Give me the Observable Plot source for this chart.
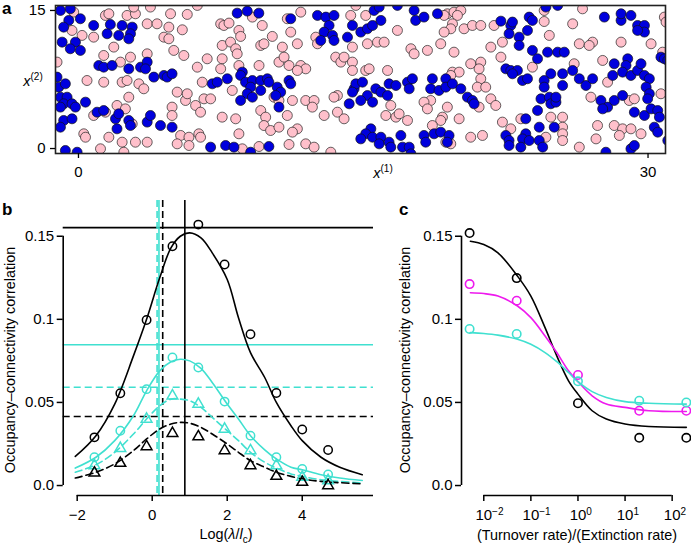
<!DOCTYPE html>
<html><head><meta charset="utf-8">
<script src="https://cdn.jsdelivr.net/npm/d3@7"></script>
<script src="https://cdn.jsdelivr.net/npm/@observablehq/plot@0.6"></script>
<style>
body{margin:0;background:#fff;font-family:"Liberation Sans",Arial,sans-serif;}
#wrap{position:relative;width:691px;height:545px;overflow:hidden;background:#fff;}
.panel{position:absolute;}
#wrap svg text{font-family:"Liberation Sans",Arial,sans-serif;}
#wrap svg g[aria-label$="tick label"]{font-size:15px;}
#wrap svg tspan.sup{font-size:10px;}
.lbl{position:absolute;font-size:14.4px;color:#000;white-space:nowrap;line-height:1;}
.lbl sup{font-size:10px;vertical-align:0;position:relative;top:-6px;}
.lbl sub{font-size:10px;vertical-align:0;position:relative;top:4px;}
.tag{position:absolute;font-weight:bold;font-size:17px;line-height:1;}
.rot{transform:translate(-50%,-50%) rotate(-90deg);}
.ctr{transform:translate(-50%,-50%);}
</style></head><body><div id="wrap"></div>
<script>
// ---------- Panel a: occupancy map ----------
const aXTicks = [0, 30];
const aYTicks = [0, 15];
const aXDomain = [-1.21, 30.92];
const aYDomain = [-0.54, 15.54];
const occupiedSites = [
[-0.95,15.0],[-0.43,15.18],[-0.51,13.92],[0.1,14.1],[-0.78,13.19],[-0.86,11.56],[-0.16,11.56],[-0.43,10.84],[0.1,10.66],[0.8,13.37],[1.68,13.48],[1.51,12.47],[2.3,13.37],[2.83,13.19],[2.74,12.47],[2.65,11.92],[2.12,12.29],[1.07,9.02],[1.33,8.84],[1.77,9.02],[2.65,8.66],[3.27,8.84],[3.62,9.39],[3.53,8.66],[3.97,7.76],[4.5,7.94],[4.67,7.76],[4.93,8.12],[-1.13,7.76],[-1.04,6.67],[-0.69,7.03],[-0.95,5.58],[-0.6,5.58],[-0.78,4.86],[-0.34,4.86],[-0.16,4.5],[0.37,5.04],[-0.95,4.5],[0.98,3.95],[1.33,4.13],[1.95,3.23],[2.12,3.77],[2.03,2.14],[2.65,3.05],[2.74,2.5],[3.62,2.87],[3.79,3.59],[4.32,2.5],[4.93,2.32],[-0.78,3.05],[-0.34,3.23],[-0.95,2.32],[-0.69,-0.21],[-0.07,-0.4],
[8.36,14.71],[8.89,14.93],[9.5,14.71],[11.18,14.1],[7.05,7.03],[7.31,7.21],[7.84,7.58],[8.63,8.3],[8.54,7.94],[8.8,7.21],[9.16,7.39],[9.6,7.39],[9.95,7.58],[10.03,7.21],[9.07,6.67],[8.89,5.95],[9.6,6.31],[8.54,5.22],[9.16,5.58],[10.47,6.67],[10.65,6.13],[10.39,5.76],[11.09,7.39],[11.18,7.03],[10.56,4.5],[6.96,0.15],[7.75,0.33],[8.19,0.15],[10.03,0.22],[9.07,-0.4],
[12.59,14.46],[13.03,14.28],[13.46,14.46],[13.2,13.37],[12.94,12.65],[13.38,12.29],[13.46,11.74],[12.76,11.74],[14.17,12.1],[14.43,13.37],[14.87,12.65],[15.22,13.01],[15.49,13.37],[15.93,13.92],[15.57,15.0],[15.84,15.37],[16.8,15.55],[14.52,6.49],[14.61,7.03],[14.96,7.21],[14.43,6.13],[15.22,5.76],[15.66,6.49],[15.93,6.13],[16.28,5.76],[16.36,7.03],[16.72,6.85],[17.33,7.21],[17.59,7.58],[17.42,6.49],[14.26,4.86],[14.87,5.22],[15.49,5.04],[15.4,2.14],[15.13,1.6],[14.87,1.05],[15.49,1.23],[15.93,1.23],[15.84,0.51],[16.36,0.69],[16.45,0.15],[16.98,1.42],[17.07,0.15],[17.42,0.15],[17.51,-0.58],
[17.68,15.0],[17.76,13.92],[18.2,14.28],[18.91,14.64],[22.25,13.84],[22.77,13.37],[22.68,12.47],[22.86,13.74],[23.21,12.1],[23.21,11.2],[23.74,14.28],[23.91,13.92],[23.65,12.83],[23.91,10.66],[18.64,7.58],[18.55,6.49],[18.99,6.31],[19.35,7.58],[19.35,6.67],[19.7,7.03],[20.14,6.49],[20.49,5.58],[20.75,5.22],[20.84,4.86],[22.51,8.66],[22.77,8.48],[23.12,8.48],[22.86,8.12],[23.39,7.39],[23.65,7.58],[18.2,1.42],[18.73,1.6],[19.08,1.78],[19.52,1.42],[19.43,0.69],[18.29,0.69],[22.51,1.42],[22.68,0.87],[22.68,0.33],[23.56,3.23],[23.56,1.6],[23.39,1.05],[23.74,0.87],[23.3,0.15],
[24.62,15.37],[25.24,15.55],[27.7,14.28],[28.58,13.92],[28.58,14.64],[29.1,14.46],[29.45,13.37],[29.81,13.37],[29.81,12.65],[29.45,12.83],[24.18,9.75],[24.71,10.47],[25.24,10.47],[25.59,10.47],[24.88,8.12],[24.53,7.39],[24.53,6.67],[25.5,8.12],[25.5,6.85],[26.03,8.48],[26.38,7.58],[26.73,6.85],[27.08,7.58],[28.22,9.21],[28.93,9.75],[28.84,9.02],[28.14,7.94],[28.66,8.3],[29.1,7.94],[29.45,8.48],[29.63,9.21],[29.81,7.94],[30.07,7.58],[29.9,6.67],[30.07,5.95],[29.98,5.4],[30.68,9.93],[30.86,9.75],[31.04,9.57],[24.36,5.4],[24.8,5.58],[24.88,4.86],[25.15,5.04],[25.15,5.58],[24.18,4.13],[25.06,2.32],[24.27,2.32],[27.52,5.22],[27.87,4.5],[28.22,5.22],[28.66,5.76],[27.61,4.31],[29.28,3.95],[29.81,3.59],[30.16,4.31],[30.51,4.13],[30.6,3.41],[30.33,2.32],[30.51,1.78],[31.04,0.87],[24.27,0.87],[24.45,0.15],[29.1,-0.03],[29.28,0.33],[27.78,-0.4]
];
const emptySites = [
[-0.25,14.82],[-0.34,12.83],[0.19,12.29],[0.8,12.1],[1.42,14.46],[1.6,14.64],[2.56,14.46],[3.0,14.64],[2.91,15.37],[3.62,13.55],[4.14,13.55],[4.76,13.19],[4.5,12.1],[4.76,11.92],[4.85,14.64],[3.79,15.37],[1.86,11.02],[1.33,10.11],[2.21,9.39],[2.74,9.93],[3.62,10.29],[-1.13,9.39],[5.02,10.66],[0.45,7.39],[1.33,7.21],[2.3,7.21],[2.56,7.39],[3.18,7.03],[3.44,6.49],[2.65,5.58],[2.03,4.68],[2.47,4.31],[0.8,3.59],[1.42,3.95],[2.83,2.68],[4.93,4.5],[4.93,3.59],[0.28,1.6],[0.37,1.23],[1.6,1.23],[2.3,0.69],[3.0,0.69],[3.62,0.69],[1.16,-0.03],[2.39,-0.4],
[5.73,14.57],[6.26,15.55],[5.47,12.9],[5.55,10.11],[6.78,9.75],[6.26,8.84],[7.57,9.75],[7.49,8.66],[7.57,11.2],[8.01,11.56],[8.28,10.84],[8.36,10.29],[8.45,9.02],[7.49,13.55],[7.66,13.37],[7.93,13.63],[8.45,12.83],[8.54,12.18],[9.16,14.28],[9.68,13.37],[10.21,12.18],[9.6,11.2],[9.77,11.38],[10.74,11.02],[11.0,14.1],[10.56,9.39],[10.83,9.93],[11.09,9.02],[11.18,12.65],[9.51,9.02],[6.52,7.21],[8.1,6.31],[5.2,6.13],[5.64,5.22],[5.73,5.95],[6.61,5.4],[6.96,5.4],[6.17,4.68],[6.43,3.95],[7.57,3.41],[8.28,3.23],[9.6,4.13],[9.86,3.41],[11.0,3.59],[10.3,5.58],[10.56,5.22],[9.77,2.5],[10.12,1.96],[10.56,2.32],[8.45,1.6],[5.38,1.42],[5.82,1.23],[6.34,1.6],[6.43,1.23],[5.2,0.51],[5.82,0.33],[8.63,-0.03],[9.51,0.22],[11.09,0.44],
[11.71,14.82],[11.53,11.38],[12.5,12.1],[12.59,11.38],[14.34,14.46],[14.43,11.02],[15.13,14.46],[15.22,11.38],[15.75,11.56],[16.1,11.56],[16.8,12.83],[17.51,10.84],[17.68,10.29],[13.55,9.93],[13.82,9.39],[13.99,9.93],[14.43,9.39],[14.43,8.48],[15.13,8.48],[15.31,8.66],[16.28,8.48],[11.71,9.02],[11.97,8.66],[11.53,8.48],[13.64,5.76],[13.46,5.58],[11.97,5.22],[12.41,5.22],[12.32,4.5],[11.27,5.22],[12.94,3.59],[13.64,3.95],[13.99,3.23],[16.45,4.68],[16.19,3.59],[16.72,3.41],[16.89,3.77],[17.33,3.05],[11.53,2.14],[11.27,1.78],[11.97,0.51],[12.41,0.15],[13.29,-0.4],[14.61,15.55],
[19.43,14.64],[19.78,14.82],[20.14,15.0],[19.96,14.46],[19.7,13.55],[19.61,13.01],[19.26,12.65],[20.31,13.01],[20.75,13.37],[21.19,13.37],[21.89,13.37],[19.08,11.38],[19.78,10.47],[18.38,10.66],[21.72,11.02],[22.33,11.56],[22.25,9.93],[20.66,9.21],[21.19,9.39],[21.1,8.66],[19.7,8.3],[20.05,8.3],[19.61,7.94],[21.19,7.58],[21.01,6.67],[21.45,6.67],[21.72,5.4],[21.98,4.68],[21.1,4.5],[19.43,4.5],[18.55,5.22],[18.2,5.04],[18.38,4.31],[19.17,3.41],[19.08,3.05],[20.05,3.23],[18.64,2.5],[22.33,2.87],[22.77,2.14],[23.3,3.23],[20.66,1.23],[21.28,1.42],[19.61,0.51],[19.35,0.69],[23.91,8.84],[19.26,14.46],
[24.53,15.0],[24.53,13.8],[26.03,13.55],[24.8,12.29],[26.38,11.38],[27.08,11.56],[26.9,11.2],[28.58,11.56],[30.16,11.38],[30.86,14.28],[30.95,13.74],[30.77,10.47],[26.11,9.21],[27.61,9.57],[27.87,7.21],[26.99,5.58],[29.01,5.22],[29.28,5.4],[30.68,5.95],[24.88,3.41],[25.5,3.41],[25.5,2.32],[27.34,2.5],[28.22,2.5],[28.66,2.14],[29.1,2.14],[29.63,1.6],[28.49,1.42],[27.26,1.05],[24.62,1.23],[25.5,1.6],[25.5,0.87],[26.38,0.15],[26.55,15.18]
];

// ---------- Panel b ----------
const bXTicks = [-2, 0, 2, 4];
const bYTicks = [0, 0.05, 0.1, 0.15];
const bXDomain = [-2.373, 5.9];
const yDomain = [-0.006, 0.1715];
const bLogX = [-1.54, -0.85, -0.15, 0.54, 1.23, 1.93, 2.62, 3.31, 4.0, 4.69];
const bBlackCircles = [0.029, 0.0555, 0.0996, 0.144, 0.157, 0.133, 0.091, 0.0557, 0.0337, 0.0214];
const bCyanCircles = [0.017, 0.033, 0.058, 0.077, 0.071, 0.0505, 0.030, 0.017, 0.010, 0.0066];
const bCyanTriangles = [0.012, 0.0224, 0.040, 0.054, 0.049, 0.034, 0.021, 0.012, 0.005, 0.003];
const bBlackTriangles = [0.0076, 0.0134, 0.0234, 0.0314, 0.0294, 0.021, 0.012, 0.0056, 0.002, 0.0];
const bFitX = [-2.05, -1.5, -1.0, -0.5, -0.15, 0.2, 0.5, 0.75, 1.0, 1.3, 1.6, 2.0, 2.3, 2.62, 3.0, 3.31, 3.7, 4.0, 4.5, 5.0, 5.6];
const bFitBlackSolid = [0.0175, 0.030, 0.049, 0.078, 0.100, 0.125, 0.143, 0.150, 0.152, 0.149, 0.140, 0.124, 0.101, 0.080, 0.065, 0.050, 0.036, 0.027, 0.017, 0.011, 0.0065];
const bFitCyanSolid = [0.0105, 0.017, 0.027, 0.042, 0.057, 0.069, 0.0745, 0.076, 0.075, 0.0705, 0.062, 0.049, 0.040, 0.030, 0.0215, 0.016, 0.011, 0.0095, 0.0065, 0.0045, 0.003];
const bFitCyanDashed = [0.008, 0.0125, 0.020, 0.031, 0.040, 0.048, 0.052, 0.052, 0.051, 0.047, 0.041, 0.033, 0.027, 0.020, 0.014, 0.0105, 0.007, 0.0055, 0.0035, 0.0025, 0.0015];
const bFitBlackDashed = [0.0045, 0.008, 0.013, 0.021, 0.028, 0.034, 0.037, 0.038, 0.0375, 0.035, 0.031, 0.025, 0.020, 0.015, 0.011, 0.008, 0.0055, 0.004, 0.0025, 0.0017, 0.001];
const bHLevels = [0.1552, 0.0847, 0.0591, 0.0415];
const bVLevels = [0.87, 0.18, 0.13, 0.28];
const bLineColor = ["#000", "#40E0D0", "#40E0D0", "#000"];
const bLineDash = [null, null, "7,4", "7,4"];

// ---------- Panel c ----------
const cXTicks = [0.01, 0.1, 1, 10, 100];
const cXDomain = [0.003365, 213.8];
const cRatio = [0.005, 0.05, 1, 20, 200];
const cBlack = [0.1519, 0.1248, 0.0495, 0.0287, 0.0287];
const cMagenta = [0.1212, 0.1112, 0.0665, 0.045, 0.045];
const cCyan = [0.0942, 0.0912, 0.0627, 0.051, 0.050];
const cFitX = [0.0052, 0.01, 0.02, 0.052, 0.1, 0.2, 0.355, 0.63, 1, 2, 4, 10, 32, 200];
const cFitBlack = [0.147, 0.145, 0.140, 0.126, 0.114, 0.095, 0.078, 0.063, 0.055, 0.045, 0.040, 0.037, 0.0355, 0.035];
const cFitMagenta = [0.116, 0.1155, 0.114, 0.108, 0.101, 0.090, 0.080, 0.069, 0.0625, 0.054, 0.049, 0.047, 0.045, 0.0445];
const cFitCyan = [0.092, 0.0915, 0.0905, 0.088, 0.085, 0.080, 0.0745, 0.068, 0.0625, 0.0565, 0.053, 0.0505, 0.0495, 0.049];

const CYAN = "#40E0D0", MAG = "#ee1aee", BLUE = "#0000dd", PINK = "#FFC0CB";
const FONT = "'Liberation Sans', Arial, sans-serif";
const style = "font-size:15px;font-family:'Liberation Sans',Arial,sans-serif;color:#000;background:#fff;overflow:visible;";
const fmtY = d => d === 0 ? "0.0" : String(d);
const TICKFONT = 15;

const wrap = document.getElementById("wrap");
function place(el, left, top) { el.classList.add("panel"); el.style.left = left + "px"; el.style.top = top + "px"; wrap.appendChild(el); }

// Panel a
const pa = Plot.plot({
  width: 691, height: 185, marginLeft: 55, marginRight: 26, marginTop: 5, marginBottom: 32,
  style,
  x: {domain: aXDomain}, y: {domain: aYDomain},
  marks: [
    Plot.dot(emptySites, {x: d => d[0], y: d => d[1], r: 5, fill: PINK, stroke: "#222", strokeWidth: 0.7, clip: true}),
    Plot.dot(occupiedSites, {x: d => d[0], y: d => d[1], r: 5, fill: BLUE, stroke: "#111", strokeWidth: 0.7, clip: true}),
    Plot.frame({stroke: "#222", strokeWidth: 1.6}),
    Plot.axisX(aXTicks, {tickSize: 5, tickPadding: 8, label: null, strokeWidth: 1.3, fontSize: TICKFONT}),
    Plot.axisY(aYTicks, {tickSize: 5, tickPadding: 5, label: null, strokeWidth: 1.3, fontSize: TICKFONT})
  ]
});
place(pa, 0, 0);

// Panel b
const bPoints = bLogX.map((x, i) => ({x, bc: bBlackCircles[i], cc: bCyanCircles[i], ct: bCyanTriangles[i], bt: bBlackTriangles[i]}));
const bFit = bFitX.map((x, i) => ({x, bs: bFitBlackSolid[i], cs: bFitCyanSolid[i], cd: bFitCyanDashed[i], bd: bFitBlackDashed[i]}));
const bH = bHLevels.map((v, i) => ({v, c: bLineColor[i], d: bLineDash[i]}));
const bV = bVLevels.map((v, i) => ({v, c: bLineColor[i], d: bLineDash[i]}));
const lineOpt = {strokeWidth: 1.6, curve: "catmull-rom"};
const pb = Plot.plot({
  width: 390, height: 350, marginLeft: 62.7, marginRight: 17, marginTop: 5, marginBottom: 50,
  style,
  x: {domain: bXDomain}, y: {domain: yDomain},
  marks: [
    Plot.ruleY(bH.filter(d => !d.d), {y: "v", stroke: "c", strokeWidth: 1.6}),
    Plot.ruleY(bH.filter(d => d.d), {y: "v", stroke: "c", strokeWidth: 1.6, strokeDasharray: "7,4"}),
    Plot.ruleX(bV.filter(d => !d.d), {x: "v", stroke: "c", strokeWidth: 1.6}),
    Plot.ruleX(bV.filter(d => d.d), {x: "v", stroke: "c", strokeWidth: 1.6, strokeDasharray: "7,4"}),
    Plot.line(bFit, {x: "x", y: "bs", stroke: "#000", ...lineOpt}),
    Plot.line(bFit, {x: "x", y: "cs", stroke: CYAN, ...lineOpt}),
    Plot.line(bFit, {x: "x", y: "cd", stroke: CYAN, strokeDasharray: "7,4", ...lineOpt}),
    Plot.line(bFit, {x: "x", y: "bd", stroke: "#000", strokeDasharray: "7,4", ...lineOpt}),
    Plot.dot(bPoints, {x: "x", y: "bc", r: 4.2, stroke: "#000", fill: "none", strokeWidth: 1.5}),
    Plot.dot(bPoints, {x: "x", y: "cc", r: 4.2, stroke: CYAN, fill: "none", strokeWidth: 1.5}),
    Plot.dot(bPoints, {x: "x", y: "ct", r: 4, symbol: "triangle", stroke: CYAN, fill: "none", strokeWidth: 1.5}),
    Plot.dot(bPoints, {x: "x", y: "bt", r: 4, symbol: "triangle", stroke: "#000", fill: "none", strokeWidth: 1.5}),
    Plot.ruleX([bXDomain[0]], {y1: bYTicks[0], y2: bYTicks[bYTicks.length - 1], strokeWidth: 1.6}),
    Plot.ruleY([yDomain[0]], {x1: bXTicks[0], x2: bXDomain[1], strokeWidth: 1.6}),
    Plot.axisY(bYTicks, {tickSize: 6, tickPadding: 3, tickFormat: fmtY, label: null, strokeWidth: 1.5, fontSize: TICKFONT}),
    Plot.axisX(bXTicks, {tickSize: 6, tickPadding: 8, label: null, strokeWidth: 1.5, fontSize: TICKFONT})
  ]
});
place(pb, 0, 195);

// Panel c
const cPoints = cRatio.map((x, i) => ({x, k: cBlack[i], m: cMagenta[i], c: cCyan[i]}));
const cFit = cFitX.map((x, i) => ({x, k: cFitBlack[i], m: cFitMagenta[i], c: cFitCyan[i]}));
const pc = Plot.plot({
  width: 296, height: 350, marginLeft: 66, marginRight: 3.8, marginTop: 5, marginBottom: 50,
  style,
  x: {type: "log", domain: cXDomain}, y: {domain: yDomain},
  marks: [
    Plot.line(cFit, {x: "x", y: "k", stroke: "#000", ...lineOpt}),
    Plot.line(cFit, {x: "x", y: "m", stroke: MAG, ...lineOpt}),
    Plot.line(cFit, {x: "x", y: "c", stroke: CYAN, ...lineOpt}),
    Plot.dot(cPoints, {x: "x", y: "k", r: 4.2, stroke: "#000", fill: "none", strokeWidth: 1.6}),
    Plot.dot(cPoints, {x: "x", y: "m", r: 4.2, stroke: MAG, fill: "none", strokeWidth: 1.6}),
    Plot.dot(cPoints, {x: "x", y: "c", r: 4.2, stroke: CYAN, fill: "none", strokeWidth: 1.6}),
    Plot.ruleX([cXDomain[0]], {y1: bYTicks[0], y2: bYTicks[bYTicks.length - 1], strokeWidth: 1.6}),
    Plot.ruleY([yDomain[0]], {x1: cXTicks[0], x2: cXTicks[cXTicks.length - 1], strokeWidth: 1.6}),
    Plot.axisY(bYTicks, {tickSize: 6, tickPadding: 3, tickFormat: fmtY, label: null, strokeWidth: 1.5, fontSize: TICKFONT}),
    Plot.axisX(cXTicks, {tickSize: 6, tickPadding: 8, label: null, strokeWidth: 1.5, fontSize: TICKFONT, tickFormat: d => String(Math.round(Math.log10(d)))})
  ]
});
place(pc, 395, 195);

d3.selectAll("#wrap svg").attr("font-size", TICKFONT).attr("font-family", FONT);

// superscript exponents on the log axis ("10" centred on the tick, exponent to its right)
d3.select(pc).selectAll('g[aria-label="x-axis tick label"] text').each(function() {
  const e = +this.textContent.replace("\u2212", "-");
  const t = d3.select(this);
  t.text("10").attr("text-anchor", "start").attr("dx", "-0.556em");
  t.append("tspan").attr("class", "sup").attr("dy", "-0.5em").style("font-size", "10px").text(e < 0 ? "\u2212" + (-e) : String(e));
});

// Labels (HTML text)
function label(html, left, top, cls) {
  const d = document.createElement("div");
  d.className = cls; d.innerHTML = html;
  d.style.left = left + "px"; d.style.top = top + "px";
  wrap.appendChild(d);
}
label("a", 2, 0, "tag");
label("b", 2, 201, "tag");
label("c", 399, 201, "tag");
label("<i>x</i><sup>(2)</sup>", 33, 81, "lbl ctr");
label("<i>x</i><sup>(1)</sup>", 383, 173, "lbl ctr");
label("Occupancy\u2013connectivity correlation", 10, 360, "lbl rot");
label("Occupancy\u2013connectivity correlation", 405, 360, "lbl rot");
label("Log(<i>\u03bb</i>/<i>l</i><sub>c</sub>)", 226, 534, "lbl ctr");
label("(Turnover rate)/(Extinction rate)", 577, 535, "lbl ctr");
</script></body></html>
